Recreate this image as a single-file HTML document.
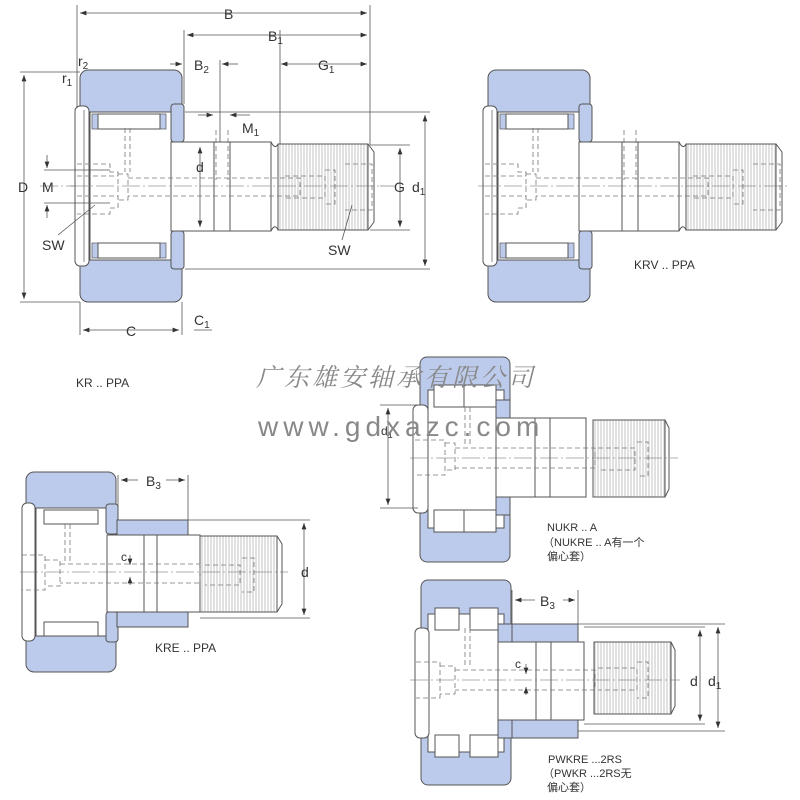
<!DOCTYPE html>
<html><head><meta charset="utf-8"><style>
html,body{margin:0;padding:0;background:#fff;width:800px;height:800px;overflow:hidden}
svg{display:block}
text{font-family:"Liberation Sans","Noto Sans CJK SC",sans-serif;fill:#333}
</style></head><body>
<svg width="800" height="800" viewBox="0 0 800 800" xmlns="http://www.w3.org/2000/svg">
<defs>
<pattern id="th" width="3" height="10" patternUnits="userSpaceOnUse"><rect width="3" height="10" fill="#fff"/><line x1="1" y1="0" x2="1" y2="10" stroke="#aaa" stroke-width="0.7"/></pattern>
<marker id="a" markerWidth="8" markerHeight="6" refX="8" refY="3" orient="auto-start-reverse"><path d="M0,0L8,3L0,6z" fill="#333"/></marker>
<g id="kr">
 <rect x="80" y="70" width="102" height="232" rx="8" fill="#bccbeb" stroke="#555"/>
 <rect x="90" y="112" width="84" height="148" fill="#fff" stroke="#555"/>
 <rect x="92" y="114" width="6" height="15" fill="#bccbeb" stroke="#555" stroke-width="0.7"/>
 <rect x="160" y="114" width="6" height="15" fill="#bccbeb" stroke="#555" stroke-width="0.7"/>
 <rect x="92" y="243" width="6" height="15" fill="#bccbeb" stroke="#555" stroke-width="0.7"/>
 <rect x="160" y="243" width="6" height="15" fill="#bccbeb" stroke="#555" stroke-width="0.7"/>
 <rect x="98" y="114" width="62" height="15" fill="#fff" stroke="#555"/>
 <rect x="98" y="243" width="62" height="15" fill="#fff" stroke="#555"/>
 <rect x="75" y="106" width="14" height="160" rx="5" fill="#fff" stroke="#555"/>
 <line x1="84" y1="110" x2="84" y2="262" stroke="#555" stroke-width="0.7"/>
 <rect x="171" y="104" width="13" height="38" rx="3" fill="#bccbeb" stroke="#555"/>
 <rect x="171" y="231" width="13" height="38" rx="3" fill="#bccbeb" stroke="#555"/>
 <rect x="171" y="142" width="100" height="89" fill="#fff" stroke="#555"/>
 <line x1="214" y1="142" x2="214" y2="231" stroke="#555"/>
 <line x1="230" y1="142" x2="230" y2="231" stroke="#555"/>
 <rect x="278" y="144" width="90" height="86" fill="url(#th)" stroke="#555"/>
 <path d="M271,142 Q275,150 278,144 M271,231 Q275,223 278,230 M368,144 L374,152 L374,222 L368,230" fill="none" stroke="#555"/>
 <g fill="none" stroke="#777" stroke-dasharray="5,3" stroke-width="0.8">
  <path d="M77,164H110V172H118V208H110V214H77"/>
  <path d="M77,176H118M77,196H118"/>
  <path d="M118,174H128V200H118 M128,178H300V196H128"/>
  <path d="M125,128V172 M130,128V172"/>
  <path d="M216,130V180 M228,130V180"/>
  <path d="M285,176H325V198H285 M325,170H335V204H325 M345,164H372V210H345"/>
 </g>
 <line x1="70" y1="186" x2="380" y2="186" stroke="#666" stroke-width="0.6" stroke-dasharray="18,3,2,3"/>
</g>
</defs>

<use href="#kr"/>
<line x1="40" y1="186" x2="75" y2="186" stroke="#666" stroke-width="0.6" stroke-dasharray="18,3,2,3"/>
<line x1="380" y1="186" x2="395" y2="186" stroke="#666" stroke-width="0.6"/>
<g stroke="#555" stroke-width="0.8" fill="none">
 <line x1="77" y1="5" x2="77" y2="108"/><line x1="370" y1="5" x2="370" y2="145"/>
 <line x1="184" y1="30" x2="184" y2="104"/>
 <line x1="80" y1="13" x2="367" y2="13" marker-start="url(#a)" marker-end="url(#a)"/>
 <line x1="187" y1="35" x2="367" y2="35" marker-start="url(#a)" marker-end="url(#a)"/>
 <line x1="281" y1="64" x2="367" y2="64" marker-start="url(#a)" marker-end="url(#a)"/>
 <line x1="170" y1="64" x2="182" y2="64" marker-end="url(#a)"/>
 <line x1="222" y1="64" x2="238" y2="64" marker-start="url(#a)"/>
 <line x1="220" y1="60" x2="220" y2="142"/>
 <line x1="280" y1="30" x2="280" y2="144"/>
 <line x1="20" y1="72" x2="80" y2="72"/><line x1="20" y1="302" x2="80" y2="302"/>
 <line x1="24" y1="75" x2="24" y2="299" marker-start="url(#a)" marker-end="url(#a)"/>
 <line x1="185" y1="112" x2="430" y2="112"/><line x1="185" y1="269" x2="430" y2="269"/>
 <line x1="425" y1="115" x2="425" y2="266" marker-start="url(#a)" marker-end="url(#a)"/>
 <line x1="370" y1="145" x2="410" y2="145"/><line x1="370" y1="230" x2="410" y2="230"/>
 <line x1="400" y1="148" x2="400" y2="227" marker-start="url(#a)" marker-end="url(#a)"/>
 <line x1="200" y1="147" x2="200" y2="227" marker-start="url(#a)" marker-end="url(#a)"/>
 <line x1="198" y1="115" x2="213" y2="115" marker-end="url(#a)"/>
 <line x1="230" y1="115" x2="250" y2="115" marker-start="url(#a)"/>
 <line x1="47" y1="155" x2="47" y2="168" marker-end="url(#a)"/><line x1="47" y1="218" x2="47" y2="205" marker-end="url(#a)"/>
 <line x1="44" y1="170" x2="110" y2="170"/><line x1="44" y1="203" x2="110" y2="203"/>
 <line x1="58" y1="235" x2="95" y2="205"/><line x1="342" y1="240" x2="352" y2="205"/>
 <line x1="80" y1="302" x2="80" y2="335"/><line x1="182" y1="302" x2="182" y2="335"/>
 <line x1="83" y1="330" x2="179" y2="330" marker-start="url(#a)" marker-end="url(#a)"/>
 <line x1="194" y1="330" x2="212" y2="330"/>
</g>
<g font-size="14">
 <text x="224" y="19">B</text>
 <text x="268" y="41">B<tspan font-size="10" dy="3">1</tspan></text>
 <text x="194" y="70">B<tspan font-size="10" dy="3">2</tspan></text>
 <text x="318" y="70">G<tspan font-size="10" dy="3">1</tspan></text>
 <text x="242" y="133">M<tspan font-size="10" dy="3">1</tspan></text>
 <text x="78" y="66">r<tspan font-size="10" dy="3">2</tspan></text>
 <text x="62" y="83">r<tspan font-size="10" dy="3">1</tspan></text>
 <text x="18" y="192">D</text>
 <text x="42" y="192">M</text>
 <text x="196" y="172">d</text>
 <text x="394" y="192">G</text>
 <text x="412" y="192">d<tspan font-size="10" dy="3">1</tspan></text>
 <text x="42" y="250">SW</text>
 <text x="328" y="255">SW</text>
 <text x="126" y="336">C</text>
 <text x="194" y="325">C<tspan font-size="10" dy="3">1</tspan></text>
 <text x="76" y="387" font-size="12">KR .. PPA</text>
</g>

<use href="#kr" transform="translate(408,0)"/>
<text x="634" y="269" font-size="12">KRV .. PPA</text>

<g>
 <rect x="26" y="472" width="90" height="200" rx="8" fill="#bccbeb" stroke="#555"/>
 <rect x="36" y="508" width="74" height="128" fill="#fff" stroke="#555"/>
 <rect x="44" y="510" width="54" height="14" fill="#fff" stroke="#555"/>
 <rect x="44" y="622" width="54" height="14" fill="#fff" stroke="#555"/>
 <rect x="22" y="503" width="13" height="138" rx="5" fill="#fff" stroke="#555"/>
 <rect x="106" y="504" width="12" height="30" rx="3" fill="#bccbeb" stroke="#555"/>
 <rect x="106" y="612" width="12" height="30" rx="3" fill="#bccbeb" stroke="#555"/>
 <rect x="117" y="520" width="71" height="15" fill="#bccbeb" stroke="#555"/>
 <rect x="117" y="612" width="71" height="15" fill="#bccbeb" stroke="#555"/>
 <rect x="107" y="535" width="93" height="77" fill="#fff" stroke="#555"/>
 <line x1="144" y1="535" x2="144" y2="612" stroke="#555"/><line x1="157" y1="535" x2="157" y2="612" stroke="#555"/>
 <rect x="200" y="536" width="77" height="76" fill="url(#th)" stroke="#555"/>
 <path d="M277,536 L282,544 L282,604 L277,612" fill="none" stroke="#555"/>
 <g fill="none" stroke="#777" stroke-dasharray="5,3" stroke-width="0.8">
  <path d="M22,555H45V590H22 M45,560H60V586H45 M60,564H200V583H60 M65,524V562 M70,524V562 M205,565H240V585H205 M242,558H254V592H242"/>
 </g>
 <line x1="20" y1="572" x2="288" y2="572" stroke="#666" stroke-width="0.6" stroke-dasharray="18,3,2,3"/>
 <g stroke="#555" stroke-width="0.8" fill="none">
  <line x1="118" y1="475" x2="118" y2="520"/><line x1="188" y1="475" x2="188" y2="520"/>
  <line x1="121" y1="480" x2="185" y2="480" marker-start="url(#a)" marker-end="url(#a)"/>
  <line x1="188" y1="520" x2="310" y2="520"/><line x1="200" y1="618" x2="310" y2="618"/>
  <line x1="304" y1="523" x2="304" y2="615" marker-start="url(#a)" marker-end="url(#a)"/>
  <line x1="130" y1="555" x2="130" y2="565" marker-end="url(#a)"/><line x1="130" y1="585" x2="130" y2="577" marker-end="url(#a)"/>
 </g>
 <rect x="138" y="474" width="28" height="14" fill="#fff"/>
 <text x="146" y="486" font-size="14">B<tspan font-size="10" dy="3">3</tspan></text>
 <text x="121" y="561" font-size="12">c</text>
 <text x="301" y="577" font-size="14">d</text>
 <text x="155" y="652" font-size="12">KRE .. PPA</text>
</g>

<g>
 <rect x="420" y="357" width="90" height="205" rx="7" fill="#bccbeb" stroke="#555"/>
 <rect x="428" y="390" width="76" height="138" fill="#fff" stroke="#555"/>
 <rect x="434" y="385" width="30" height="22" fill="#fff" stroke="#555"/><rect x="464" y="385" width="32" height="22" fill="#fff" stroke="#555"/>
 <rect x="434" y="510" width="30" height="22" fill="#fff" stroke="#555"/><rect x="464" y="510" width="32" height="22" fill="#fff" stroke="#555"/>
 <rect x="413" y="405" width="15" height="108" rx="5" fill="#fff" stroke="#555"/>
 <rect x="496" y="400" width="14" height="18" fill="#bccbeb" stroke="#555"/><rect x="496" y="497" width="14" height="18" fill="#bccbeb" stroke="#555"/>
 <rect x="496" y="418" width="90" height="79" fill="#fff" stroke="#555"/>
 <line x1="535" y1="418" x2="535" y2="497" stroke="#555"/><line x1="550" y1="418" x2="550" y2="497" stroke="#555"/>
 <rect x="593" y="420" width="72" height="77" fill="url(#th)" stroke="#555"/>
 <path d="M665,420 L669,428 L669,489 L665,497" fill="none" stroke="#555"/>
 <g fill="none" stroke="#777" stroke-dasharray="5,3" stroke-width="0.8">
  <path d="M415,440H445V475H415 M445,443H455V470H445 M455,448H595V468H455 M465,407V445 M470,407V445 M598,448H635V470H598 M637,442H648V476H637"/>
 </g>
 <line x1="410" y1="458" x2="678" y2="458" stroke="#666" stroke-width="0.6" stroke-dasharray="18,3,2,3"/>
 <g stroke="#555" stroke-width="0.8" fill="none">
  <line x1="380" y1="405" x2="418" y2="405"/><line x1="380" y1="508" x2="418" y2="508"/>
  <line x1="388" y1="408" x2="388" y2="505" marker-start="url(#a)" marker-end="url(#a)"/>
 </g>
 <text x="381" y="435" font-size="12">d<tspan font-size="9" dy="3">1</tspan></text>
 <text x="547" y="531" font-size="11">NUKR .. A</text>
 <text x="543" y="546" font-size="11">（NUKRE .. A有一个</text>
 <text x="547" y="560" font-size="11">偏心套）</text>
</g>

<g>
 <rect x="421" y="580" width="90" height="205" rx="7" fill="#bccbeb" stroke="#555"/>
 <rect x="428" y="614" width="76" height="138" fill="#fff" stroke="#555"/>
 <rect x="435" y="608" width="24" height="22" fill="#fff" stroke="#555"/><rect x="470" y="608" width="28" height="22" fill="#fff" stroke="#555"/>
 <rect x="435" y="735" width="24" height="22" fill="#fff" stroke="#555"/><rect x="470" y="735" width="28" height="22" fill="#fff" stroke="#555"/>
 <rect x="415" y="628" width="14" height="110" rx="5" fill="#fff" stroke="#555"/>
 <rect x="498" y="624" width="14" height="18" fill="#bccbeb" stroke="#555"/><rect x="498" y="720" width="14" height="18" fill="#bccbeb" stroke="#555"/>
 <rect x="512" y="624" width="66" height="18" fill="#bccbeb" stroke="#555"/>
 <rect x="512" y="720" width="66" height="18" fill="#bccbeb" stroke="#555"/>
 <rect x="498" y="642" width="86" height="78" fill="#fff" stroke="#555"/>
 <line x1="536" y1="642" x2="536" y2="720" stroke="#555"/><line x1="551" y1="642" x2="551" y2="720" stroke="#555"/>
 <rect x="594" y="642" width="77" height="72" fill="url(#th)" stroke="#555"/>
 <path d="M671,642 L675,650 L675,706 L671,714" fill="none" stroke="#555"/>
 <g fill="none" stroke="#777" stroke-dasharray="5,3" stroke-width="0.8">
  <path d="M416,662H440V698H416 M440,666H455V694H440 M455,670H595V690H455 M465,628V668 M470,628V668 M598,668H637V690H598 M637,662H648V698H637"/>
 </g>
 <line x1="410" y1="680" x2="680" y2="680" stroke="#666" stroke-width="0.6" stroke-dasharray="18,3,2,3"/>
 <g stroke="#555" stroke-width="0.8" fill="none">
  <line x1="512" y1="590" x2="512" y2="624"/><line x1="578" y1="590" x2="578" y2="624"/>
  <line x1="515" y1="600" x2="575" y2="600" marker-start="url(#a)" marker-end="url(#a)"/>
  <line x1="578" y1="624" x2="725" y2="624"/><line x1="578" y1="731" x2="725" y2="731"/>
  <line x1="584" y1="627" x2="705" y2="627"/><line x1="584" y1="724" x2="705" y2="724"/>
  <line x1="700" y1="630" x2="700" y2="721" marker-start="url(#a)" marker-end="url(#a)"/>
  <line x1="718" y1="627" x2="718" y2="728" marker-start="url(#a)" marker-end="url(#a)"/>
  <line x1="526" y1="664" x2="526" y2="674" marker-end="url(#a)"/><line x1="526" y1="695" x2="526" y2="687" marker-end="url(#a)"/>
 </g>
 <rect x="535" y="594" width="28" height="14" fill="#fff"/>
 <text x="540" y="606" font-size="14">B<tspan font-size="10" dy="3">3</tspan></text>
 <text x="515" y="668" font-size="12">c</text>
 <text x="690" y="686" font-size="14">d</text>
 <text x="708" y="686" font-size="14">d<tspan font-size="10" dy="3">1</tspan></text>
 <text x="548" y="763" font-size="11">PWKRE ...2RS</text>
 <text x="543" y="777" font-size="11">（PWKR ...2RS无</text>
 <text x="547" y="791" font-size="11">偏心套）</text>
</g>

<text x="256" y="386" font-size="25" font-style="italic" letter-spacing="3" style="fill:#888;font-family:'Noto Serif CJK SC','Noto Sans CJK SC',serif">广东雄安轴承有限公司</text>
<text x="258" y="436" font-size="28" letter-spacing="5" style="fill:#888">www.gdxazc.com</text>
</svg>
</body></html>
